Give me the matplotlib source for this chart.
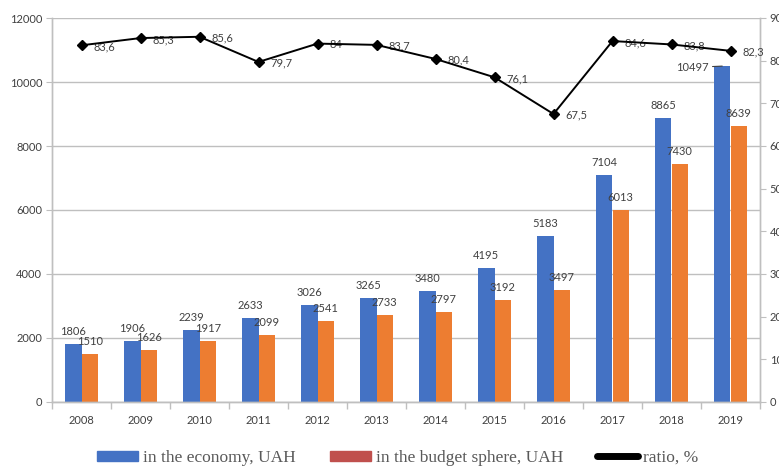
import matplotlib
matplotlib.use('Agg')
import matplotlib.pyplot as plt
from matplotlib.patches import Patch
from matplotlib.lines import Line2D
import numpy as np

# data
years = ['2008', '2009', '2010', '2011', '2012', '2013',
         '2014', '2015', '2016', '2017', '2018', '2019']
economy = [1806, 1906, 2239, 2633, 3026, 3265, 3480, 4195, 5183, 7104, 8865, 10497]
budget = [1510, 1626, 1917, 2099, 2541, 2733, 2797, 3192, 3497, 6013, 7430, 8639]
ratio = [83.6, 85.3, 85.6, 79.7, 84, 83.7, 80.4, 76.1, 67.5, 84.6, 83.8, 82.3]

BLUE = '#4472C4'
ORANGE = '#ED7D31'
GRID = '#bfbfbf'
TXT = '#404040'

plt.rcParams['font.family'] = ['Lato', 'DejaVu Sans']

fig = plt.figure(figsize=(7.79, 4.68), dpi=100)
ax = fig.add_axes([52/779, 66/468, 708/779, 384/468])
ax2 = ax.twinx()

x = np.arange(len(years))
w = 0.28
ax.bar(x - w/2, economy, w, color=BLUE, zorder=2)
ax.bar(x + w/2, budget, w, color=ORANGE, zorder=2)

# bar labels (last blue one sits to the left with a short leader line)
for i, v in enumerate(economy):
    if i == len(economy) - 1:
        ax.annotate(str(v), xy=(x[i] - w/2, v), xytext=(-10, -1),
                    textcoords='offset points', ha='right', va='center',
                    fontsize=8, color=TXT,
                    arrowprops=dict(arrowstyle='-', color=TXT, lw=0.8,
                                    shrinkA=1, shrinkB=0))
    else:
        ax.annotate(str(v), xy=(x[i] - w/2, v), xytext=(0, 9),
                    textcoords='offset points', ha='center', va='center',
                    fontsize=8, color=TXT)
for i, v in enumerate(budget):
    ax.annotate(str(v), xy=(x[i] + w/2, v), xytext=(0, 9),
                textcoords='offset points', ha='center', va='center',
                fontsize=8, color=TXT)

ax.set_xlim(-0.5, len(years) - 0.5)
ax.set_ylim(0, 12000)
ax.set_yticks(range(0, 12001, 2000))
ax.set_xticks(x)
ax.set_xticklabels(years)
ax.set_xticks(np.arange(-0.5, len(years)), minor=True)
ax.tick_params(axis='x', which='major', length=0, pad=9, labelsize=8, labelcolor=TXT)
ax.tick_params(axis='x', which='minor', length=5, color=GRID, width=1)
ax.tick_params(axis='y', length=4, color=GRID, labelsize=8, labelcolor=TXT, pad=3)
ax.grid(axis='y', color=GRID, lw=1, zorder=0)
ax.set_axisbelow(True)

# ratio line on the right axis
ax2.plot(x, ratio, color='black', lw=1.4, marker='D', markersize=5.5, zorder=5)
for i, r in enumerate(ratio):
    ax2.annotate(('%g' % r).replace('.', ','), xy=(x[i], r), xytext=(8.5, -1),
                 textcoords='offset points', ha='left', va='center',
                 fontsize=8, color=TXT)
ax2.set_ylim(0, 90)
ax2.set_yticks(range(0, 91, 10))
ax2.tick_params(axis='y', length=4, color=GRID, labelsize=8, labelcolor=TXT, pad=3)

for a in (ax, ax2):
    a.spines['top'].set_visible(False)
    for s in ('left', 'right', 'bottom'):
        a.spines[s].set_color(GRID)
        a.spines[s].set_linewidth(1)

handles = [Patch(color=BLUE), Patch(color='#C0504D'),
           Line2D([0], [0], color='black', lw=5, solid_capstyle='round')]
labels = ['in the economy, UAH', 'in the budget sphere, UAH', 'ratio, %']
fig.legend(handles, labels, loc='center', bbox_to_anchor=(398/779, 10/468),
           ncol=3, frameon=False, handlelength=2.35, handleheight=0.5,
           handletextpad=0.3, columnspacing=1.95,
           prop={'family': 'Liberation Serif', 'size': 12.5}, labelcolor='#595959')

fig.savefig('out.png', dpi=100)
